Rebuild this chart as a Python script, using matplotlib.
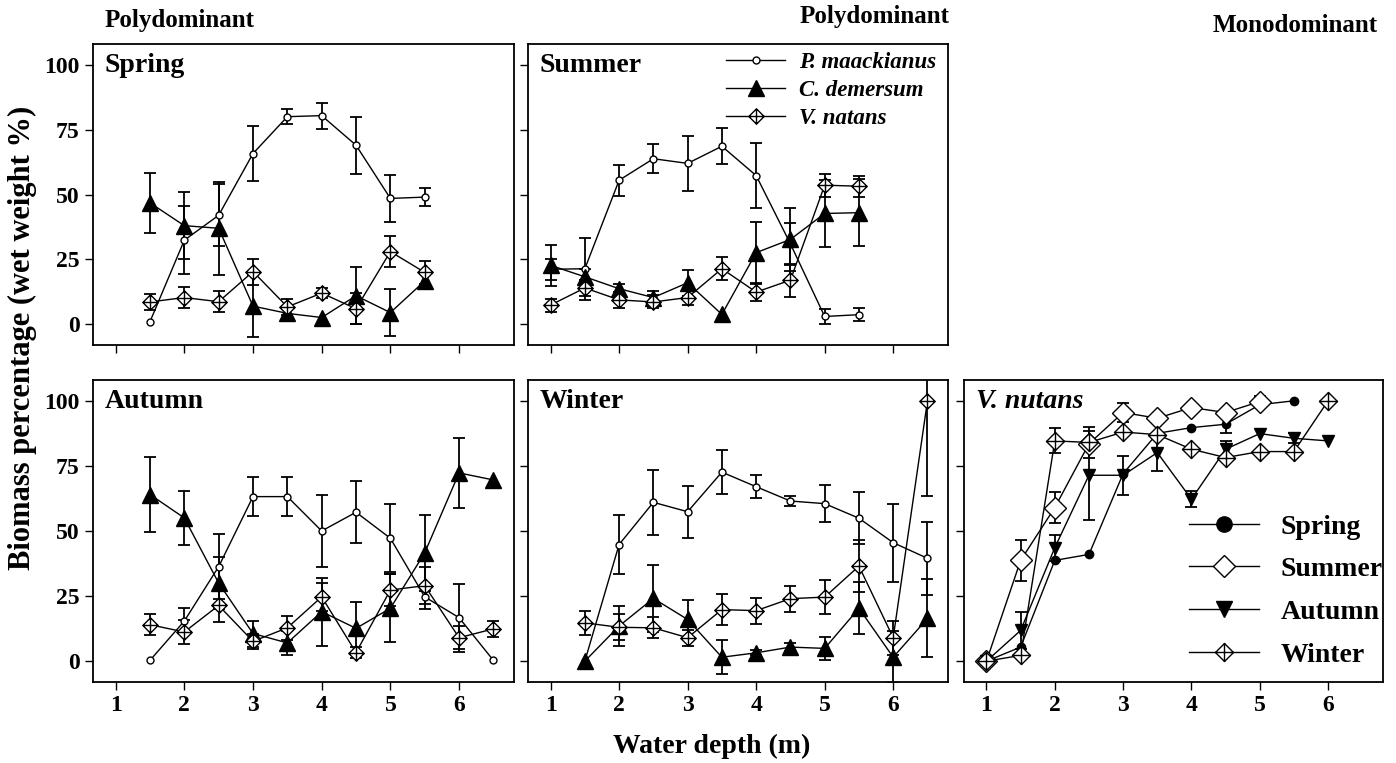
import numpy as np
import matplotlib
matplotlib.use("Agg")
import matplotlib.pyplot as plt
from matplotlib.path import Path

plt.rcParams['font.family'] = ['Liberation Serif', 'DejaVu Serif']
plt.rcParams['font.weight'] = 'bold'

# profundidades (m)
depth_spring = [1.5, 2, 2.5, 3, 3.5, 4, 4.5, 5, 5.5]
depth_summer = [1, 1.5, 2, 2.5, 3, 3.5, 4, 4.5, 5, 5.5]
depth_aw = [1.5, 2, 2.5, 3, 3.5, 4, 4.5, 5, 5.5, 6, 6.5]

# Spring
pm_spring = [1, 32.4, 42, 65.8, 80, 80.4, 69, 48.5, 49]
pm_spring_err = [0, 13, 12, 10.5, 3, 5, 11, 9, 3.5]
cd_spring = [46.8, 38, 37, 7, 4.2, 2.6, 11, 4.5, 16.7]
cd_spring_err = [11.5, 13, 18, 12, 3, 0, 11, 9, 3]
vn_spring = [8.6, 10.3, 8.7, 20.3, 6.7, 12, 6, 28, 20]
vn_spring_err = [3, 4, 4, 5, 3, 2, 6, 6, 4.5]

# Summer
pm_summer = [21.2, 21.4, 55.5, 63.8, 62, 68.6, 57.3, 31, 3, 3.7]
pm_summer_err = [4, 12, 6, 5.5, 10.5, 7, 12.5, 8, 3, 2.5]
cd_summer = [22.7, 18.3, 13.7, 10.3, 16, 3.8, 27.6, 32.7, 42.7, 43]
cd_summer_err = [8, 3, 2, 2.5, 5, 0, 12, 12, 13, 13]
vn_summer = [7.4, 14, 9.4, 8.6, 10.3, 21.4, 12.4, 17, 53.6, 53.2]
vn_summer_err = [2.5, 3, 3, 2.5, 3, 4.5, 3.5, 6.3, 4.5, 4]

# Autumn
pm_autumn = [0.3, 15.4, 36.3, 63.2, 63.2, 50, 57.2, 47.2, 24.7, 16.7, 0.3]
pm_autumn_err = [0, 5, 12.5, 7.5, 7.5, 14, 12, 13, 4.5, 13, 0]
cd_autumn = [64, 55, 30, 10.6, 7, 19, 12.6, 20.3, 41.6, 72.3, 69.6]
cd_autumn_err = [14.5, 10.5, 10, 5, 4.5, 13, 10, 13, 14.5, 13.5, 0]
vn_autumn = [14, 11.2, 21.4, 7.6, 12.8, 24.7, 3.3, 27.3, 29, 9, 12.4]
vn_autumn_err = [4, 4.5, 6.5, 3, 4.5, 5.5, 2, 6, 7, 4.5, 3]

# Winter
pm_winter = [0, 44.8, 61, 57.4, 72.6, 67, 61.5, 60.5, 54.9, 45.5, 39.5]
pm_winter_err = [0, 11.5, 12.5, 10, 8.5, 4.5, 2, 7, 10, 15, 14]
cd_winter = [0, 13.5, 24.1, 16, 1.5, 3.2, 5.4, 4.9, 20.3, 1.5, 16.4]
cd_winter_err = [0, 7.5, 13, 7.5, 6.5, 1, 1.5, 4.5, 10, 10, 15]
vn_winter = [14.7, 13, 12.8, 9, 19.8, 19.4, 24, 24.6, 36.5, 9, 100]
vn_winter_err = [4.5, 5, 4, 3, 6, 5, 5, 6.5, 10, 6.5, 36.5]

# V. nutans (monodominant)
depth_nut_sp = [1, 1.5, 2, 2.5, 3, 3.5, 4, 4.5, 5, 5.5]
nut_sp = [0, 5.4, 38.7, 41, 72, 87.5, 89.7, 91, 98.5, 100]
nut_sp_err = [0, 0, 0, 0, 0, 0, 0, 3.5, 0, 0]
depth_nut_su = [1, 1.5, 2, 2.5, 3, 3.5, 4, 4.5, 5]
nut_su = [0, 38.7, 59, 83.5, 95.5, 93.3, 97.4, 95.5, 99.7]
nut_su_err = [0, 8, 6, 0, 3.5, 0, 0, 0, 2]
depth_nut_aw = [1, 1.5, 2, 2.5, 3, 3.5, 4, 4.5, 5, 5.5, 6]
nut_au = [0, 11.8, 43.6, 71.4, 71.4, 80.1, 62.2, 81.4, 87.4, 85.6, 84.6]
nut_au_err = [0, 7, 5, 17, 7.5, 7, 3, 3, 0, 2, 0]
nut_wi = [0, 2.2, 84.6, 84, 88, 87, 81.4, 78.2, 80.5, 80.5, 100]
nut_wi_err = [0, 0, 4.8, 6, 0, 0, 0, 0, 0, 0, 0]

yticks = [0, 25, 50, 75, 100]
xticks = [1, 2, 3, 4, 5, 6]

# marcador losango com cruz
diamond_cross = Path(
    [(0, 1), (1, 0), (0, -1), (-1, 0), (0, 1), (0, 1), (0, -1), (-1, 0), (1, 0)],
    [Path.MOVETO, Path.LINETO, Path.LINETO, Path.LINETO, Path.CLOSEPOLY,
     Path.MOVETO, Path.LINETO, Path.MOVETO, Path.LINETO])

style_pm = dict(marker='o', ms=5, mfc='white', mec='black', mew=1)
style_cd = dict(marker='^', ms=11, mfc='black', mec='black')
style_vn = dict(marker=diamond_cross, ms=11, mfc='white', mec='black', mew=1)


def serie(ax, x, y, err, label=None, **kw):
    x = np.array(x)
    y = np.array(y)
    err = np.array(err)
    m = err > 0
    ax.errorbar(x[m], y[m], yerr=err[m], fmt='none', ecolor='black',
                elinewidth=1.3, capsize=4, capthick=1.3, zorder=2)
    ax.plot(x, y, color='black', lw=1, label=label, zorder=3, **kw)


def arruma(ax, xlab, ylab):
    ax.set_xlim(0.67, 6.8)
    ax.set_ylim(-8, 108)
    ax.set_xticks(xticks)
    ax.set_yticks(yticks)
    ax.tick_params(direction='out', length=6, width=1, labelsize=17,
                   labelbottom=xlab, labelleft=ylab)
    for s in ax.spines.values():
        s.set_linewidth(1.3)
    for t in ax.get_xticklabels() + ax.get_yticklabels():
        t.set_fontweight('bold')


fig = plt.figure(figsize=(13.96, 7.63), dpi=100)

ax1 = fig.add_axes([0.0666, 0.5478, 0.3016, 0.3945])
ax2 = fig.add_axes([0.3782, 0.5478, 0.3009, 0.3945])
ax3 = fig.add_axes([0.0666, 0.1062, 0.3016, 0.3958])
ax4 = fig.add_axes([0.3782, 0.1062, 0.3009, 0.3958])
ax5 = fig.add_axes([0.6905, 0.1062, 0.3000, 0.3958])

# Spring
serie(ax1, depth_spring, pm_spring, pm_spring_err, **style_pm)
serie(ax1, depth_spring, cd_spring, cd_spring_err, **style_cd)
serie(ax1, depth_spring, vn_spring, vn_spring_err, **style_vn)
arruma(ax1, False, True)

# Summer
serie(ax2, depth_summer, pm_summer, pm_summer_err, label='P. maackianus', **style_pm)
serie(ax2, depth_summer, cd_summer, cd_summer_err, label='C. demersum', **style_cd)
serie(ax2, depth_summer, vn_summer, vn_summer_err, label='V. natans', **style_vn)
arruma(ax2, False, False)
leg = ax2.legend(loc='upper right', bbox_to_anchor=(1.005, 1.02), frameon=False,
                 prop={'size': 16.5, 'weight': 'bold', 'style': 'italic'},
                 handlelength=2.6, handletextpad=0.6, labelspacing=0.3,
                 borderaxespad=0.2)

# Autumn
serie(ax3, depth_aw, pm_autumn, pm_autumn_err, **style_pm)
serie(ax3, depth_aw, cd_autumn, cd_autumn_err, **style_cd)
serie(ax3, depth_aw, vn_autumn, vn_autumn_err, **style_vn)
arruma(ax3, True, True)

# Winter
serie(ax4, depth_aw, pm_winter, pm_winter_err, **style_pm)
serie(ax4, depth_aw, cd_winter, cd_winter_err, **style_cd)
serie(ax4, depth_aw, vn_winter, vn_winter_err, **style_vn)
arruma(ax4, True, False)

# V. nutans
serie(ax5, depth_nut_sp, nut_sp, nut_sp_err, label='Spring',
      marker='o', ms=6, mfc='black', mec='black')
serie(ax5, depth_nut_su, nut_su, nut_su_err, label='Summer',
      marker='D', ms=11, mfc='white', mec='black', mew=1)
serie(ax5, depth_nut_aw, nut_au, nut_au_err, label='Autumn',
      marker='v', ms=9, mfc='black', mec='black')
serie(ax5, depth_nut_aw, nut_wi, nut_wi_err, label='Winter',
      marker=diamond_cross, ms=13, mfc='white', mec='black', mew=1)
arruma(ax5, True, False)
leg5 = ax5.legend(loc='lower right', bbox_to_anchor=(1.06, -0.035), frameon=False,
                  prop={'size': 20, 'weight': 'bold'}, handlelength=2.5,
                  handletextpad=0.8, labelspacing=0.62)
leg5.legend_handles[0].set_markersize(11)
leg5.legend_handles[2].set_markersize(12)
# o texto da legenda e cortado pela borda do painel, como no original
for t in leg5.get_texts():
    t.set_clip_on(True)
    t.set_clip_box(ax5.bbox)

# titulos dos paineis
for ax, txt in [(ax1, 'Spring'), (ax2, 'Summer'), (ax3, 'Autumn'), (ax4, 'Winter')]:
    ax.text(0.028, 0.93, txt, transform=ax.transAxes, fontsize=20,
            fontweight='bold', va='center', ha='left')
ax5.text(0.028, 0.93, 'V. nutans', transform=ax5.transAxes, fontsize=20,
         fontweight='bold', style='italic', va='center', ha='left')

fig.text(105 / 1396, 1 - 20 / 763, 'Polydominant', fontsize=18, fontweight='bold',
         ha='left', va='center')
fig.text(950 / 1396, 1 - 17 / 763, 'Polydominant', fontsize=18, fontweight='bold',
         ha='right', va='center')
fig.text(1378 / 1396, 1 - 25 / 763, 'Monodominant', fontsize=18, fontweight='bold',
         ha='right', va='center')

fig.text(22 / 1396, 1 - 338 / 763, 'Biomass percentage (wet weight %)', fontsize=22,
         fontweight='bold', rotation=90, ha='center', va='center')
fig.text(712 / 1396, 1 - 746 / 763, 'Water depth (m)', fontsize=20,
         fontweight='bold', ha='center', va='center')

fig.savefig('out.png', dpi=100)
